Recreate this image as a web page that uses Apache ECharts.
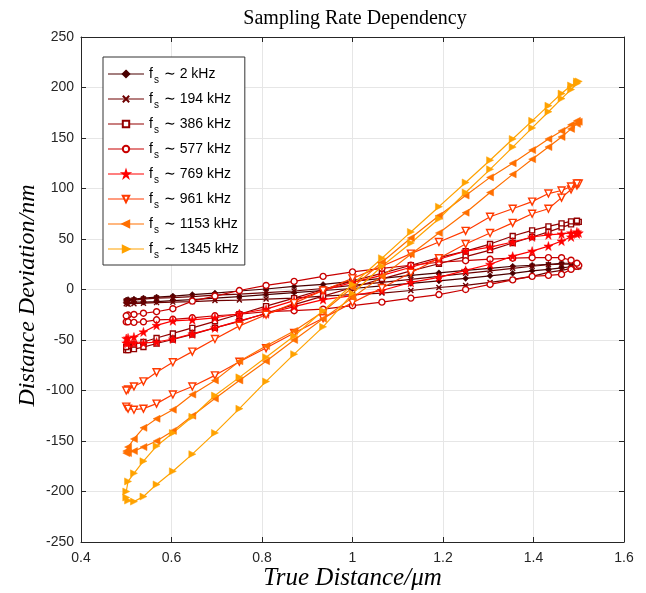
<!DOCTYPE html>
<html>
<head>
<meta charset="utf-8">
<title>Sampling Rate Dependency</title>
<script src="https://cdn.jsdelivr.net/npm/echarts@6/dist/echarts.min.js"></script>
<style>
  html, body { margin: 0; padding: 0; background: #fff; }
  #chart { width: 646px; height: 593px; }
</style>
</head>
<body>
<div id="chart"></div>
<script>
// one drive cycle: 0.5 um -> 1.5 um and back again
var trueDistance = [
  0.5, 0.504, 0.517, 0.538, 0.567, 0.603, 0.646, 0.696, 0.75, 0.809, 0.871, 0.935, 1.0,
  1.065, 1.129, 1.191, 1.25, 1.304, 1.354, 1.397, 1.433, 1.462, 1.483, 1.496, 1.5,
  1.496, 1.483, 1.462, 1.433, 1.397, 1.354, 1.304, 1.25, 1.191, 1.129, 1.065, 1.0,
  0.935, 0.871, 0.809, 0.75, 0.696, 0.646, 0.603, 0.567, 0.538, 0.517, 0.504, 0.5
];

var samplingRates = ['2 kHz', '194 kHz', '386 kHz', '577 kHz', '769 kHz', '961 kHz', '1153 kHz', '1345 kHz'];

// distance deviation (nm), same order as trueDistance
var dev2k = [
  -13, -13, -12.5, -12.5, -12, -11, -10, -8.5, -7, -5, -3, -1, 1,
  3.5, 6, 8.5, 11, 13.5, 16, 18.5, 20, 21.5, 22.5, 23, 23,
  25, 26, 26, 25, 24, 23, 21, 19, 16.5, 14, 11, 8,
  5, 3, 0.5, -1.5, -3.5, -5, -6.5, -7.5, -8.5, -9.5, -10, -10.5
];
var dev194k = [
  -14, -14.5, -14, -13.5, -13, -12.5, -12, -11, -10.5, -9.5, -8.5, -6.5, -5,
  -3.5, -1, 2, 4, 7, 10, 13, 17, 19, 21, 22, 22.5,
  24, 25, 25, 24.5, 23, 21, 18.5, 16, 13, 10, 7, 4,
  1, -1.5, -3, -4.5, -5.5, -7, -8, -8.5, -9.5, -10.5, -11, -11.5
];
var dev386k = [
  -60, -60, -59, -57, -53.5, -49.5, -44.5, -38, -31.5, -23.5, -15, -6.5, 2,
  10.5, 18.5, 25.5, 32.5, 39, 46, 52, 57, 61.5, 64.5, 66.5, 67,
  68, 67.5, 65.5, 62.5, 58.5, 53, 45, 38, 31.5, 24, 16, 8.5,
  0, -8.5, -16.5, -24.5, -31.5, -38, -43.5, -48, -52, -54.5, -56, -57
];
var dev577k = [
  -32, -32, -32.5, -32, -30, -29.5, -28, -26, -24.5, -22, -21, -19.5, -16,
  -12.5, -8.5, -5, 0, 5, 9.5, 13, 14, 15, 20, 23, 24,
  26, 29, 31.5, 31.6, 31.5, 31, 30, 28.5, 27, 24, 21, 17.5,
  13, 8, 4, -1, -6.5, -11.5, -19, -22, -23.5, -24.7, -25.3, -26
];
var dev769k = [
  -53, -53, -53, -53, -52, -49, -44, -38, -31, -24, -17, -10, -6,
  -1, 7, 12, 19, 25, 33, 38, 43, 48, 52, 55, 56,
  57, 56, 55, 54, 52, 47, 42, 38, 30, 22, 14, 7,
  -1, -11, -19.5, -24, -28, -30, -31, -35.5, -42, -47, -48, -48.5
];
var dev961k = [
  -116, -118, -119, -118, -113, -104, -96, -85, -71.5, -58, -43, -28.5, -13,
  1.5, 16.5, 31, 45, 56, 66, 75, 80, 91, 99, 103, 105,
  105, 102, 98, 95, 87, 80, 72, 58, 47, 35.5, 23, 11,
  -1, -13.5, -25, -36, -49, -61.5, -72, -82, -91, -96, -99, -100
];
var dev1153k = [
  -162, -162, -160, -156, -150, -140, -125, -108, -90, -71, -50, -29, -8,
  13, 35, 56, 76, 96, 114, 129, 141, 151, 159, 164, 166,
  167, 163, 157, 149, 138, 125, 111, 93, 73, 51, 27, 2,
  -22, -41, -56, -71, -90, -104, -119, -128, -137, -148, -156, -160
];
var dev1345k = [
  -206, -209, -210, -205, -193, -180, -163, -142, -118, -91, -64, -37, -4,
  23, 46, 70, 96, 119, 141, 160, 176, 189, 198, 204, 206,
  206, 202, 194, 182, 167, 149, 128, 106, 82, 57, 31, 5,
  -21, -46, -67, -87, -105, -126, -142, -155, -170, -182, -190, -200
];

var xTicks = { min: 0.4, max: 1.6, interval: 0.2 };
var yTicks = { min: -250, max: 250, interval: 50 };

var deviations = [dev2k, dev194k, dev386k, dev577k, dev769k, dev961k, dev1153k, dev1345k];
var colors = ['#4a0000', '#6e0000', '#930000', '#c80000', '#ff0000', '#ff3a00', '#ff6f00', '#ffa200'];

var starPath = 'path://M50 0 L61.2 34.5 L97.6 34.5 L68.2 55.9 L79.4 90.5 L50 69.1 L20.6 90.5 L31.8 55.9 L2.4 34.5 L38.8 34.5 Z';
var crossPath = 'path://M0 0 L10 10 M10 0 L0 10';
var markers = [
  { symbol: 'diamond', size: 6, rotate: 0, fill: 'solid' },
  { symbol: crossPath, size: 5, rotate: 0, fill: 'none' },
  { symbol: 'rect', size: 5, rotate: 0, fill: 'hollow' },
  { symbol: 'circle', size: 6, rotate: 0, fill: 'hollow' },
  { symbol: starPath, size: 9, rotate: 0, fill: 'solid' },
  { symbol: 'triangle', size: 7, rotate: 180, fill: 'hollow' },
  { symbol: 'triangle', size: 7, rotate: 90, fill: 'solid' },
  { symbol: 'triangle', size: 7, rotate: -90, fill: 'solid' }
];

var series = deviations.map(function (dev, i) {
  var m = markers[i];
  var c = colors[i];
  var fillColor = m.fill === 'solid' ? c : (m.fill === 'none' ? 'none' : '#fff');
  return {
    name: samplingRates[i],
    type: 'line',
    data: trueDistance.map(function (x, k) { return [x, dev[k]]; }),
    symbol: m.symbol,
    symbolSize: m.size,
    symbolRotate: m.rotate,
    showSymbol: true,
    lineStyle: { color: c, width: 1.2 },
    itemStyle: { color: fillColor, borderColor: c, borderWidth: m.fill === 'solid' ? 0.5 : 1.4 },
    silent: true
  };
});

var axisColor = '#262626';
var gridColor = '#e6e6e6';

var myChart = echarts.init(document.getElementById('chart'));

myChart.setOption({
  animation: false,
  backgroundColor: '#fff',
  title: {
    text: 'Sampling Rate Dependency',
    left: 355,
    top: 9,
    textAlign: 'center',
    padding: 0,
    textStyle: {
      fontFamily: 'Liberation Serif',
      fontWeight: 'normal',
      fontSize: 20,
      color: '#000'
    }
  },
  grid: {
    left: 81,
    right: 22,
    top: 37,
    bottom: 51,
    outerBoundsMode: 'none'
  },
  legend: {
    orient: 'vertical',
    left: 103,
    top: 57,
    padding: [10, 6, 5, 4],
    itemGap: 7,
    itemWidth: 36,
    itemHeight: 8,
    backgroundColor: '#fff',
    borderColor: '#333',
    borderWidth: 1,
    lineStyle: { opacity: 0.5 },
    data: samplingRates,
    formatter: function (name) {
      return '{t|f}{s|s}{t| \u223C ' + name + '}';
    },
    textStyle: {
      color: '#000',
      rich: {
        t: { fontFamily: 'Liberation Sans', fontSize: 14, color: '#000' },
        s: { fontFamily: 'Liberation Sans', fontSize: 10, padding: [12, 1, 0, 1], color: '#000' }
      }
    }
  },
  xAxis: [
    {
      type: 'value',
      min: xTicks.min,
      max: xTicks.max,
      interval: xTicks.interval,
      position: 'bottom',
      name: 'True Distance/\u03BCm',
      nameLocation: 'middle',
      nameGap: 24,
      nameMoveOverlap: false,
      nameTextStyle: { fontFamily: 'Liberation Serif', fontStyle: 'italic', fontSize: 25, color: '#000' },
      axisLine: { show: true, onZero: false, lineStyle: { color: axisColor, width: 1 } },
      axisTick: { show: true, inside: true, length: 5, lineStyle: { color: axisColor } },
      axisLabel: { margin: 9, fontFamily: 'Liberation Sans', fontSize: 14, color: axisColor },
      splitLine: { show: true, lineStyle: { color: gridColor, width: 1 } }
    },
    {
      type: 'value',
      min: xTicks.min,
      max: xTicks.max,
      interval: xTicks.interval,
      position: 'top',
      axisLine: { show: true, onZero: false, lineStyle: { color: axisColor, width: 1 } },
      axisTick: { show: true, inside: true, length: 5, lineStyle: { color: axisColor } },
      axisLabel: { show: false },
      splitLine: { show: false }
    }
  ],
  yAxis: [
    {
      type: 'value',
      min: yTicks.min,
      max: yTicks.max,
      interval: yTicks.interval,
      position: 'left',
      name: 'Distance Deviation/nm',
      nameLocation: 'middle',
      nameRotate: 90,
      nameGap: 41,
      nameMoveOverlap: false,
      nameTextStyle: { fontFamily: 'Liberation Serif', fontStyle: 'italic', fontSize: 24, color: '#000', padding: [0, 12, 0, 0] },
      axisLine: { show: true, onZero: false, lineStyle: { color: axisColor, width: 1 } },
      axisTick: { show: true, inside: true, length: 5, lineStyle: { color: axisColor } },
      axisLabel: { margin: 7, fontFamily: 'Liberation Sans', fontSize: 14, color: axisColor },
      splitLine: { show: true, lineStyle: { color: gridColor, width: 1 } }
    },
    {
      type: 'value',
      min: yTicks.min,
      max: yTicks.max,
      interval: yTicks.interval,
      position: 'right',
      axisLine: { show: true, onZero: false, lineStyle: { color: axisColor, width: 1 } },
      axisTick: { show: true, inside: true, length: 5, lineStyle: { color: axisColor } },
      axisLabel: { show: false },
      splitLine: { show: false }
    }
  ],
  series: series
});
</script>
</body>
</html>
